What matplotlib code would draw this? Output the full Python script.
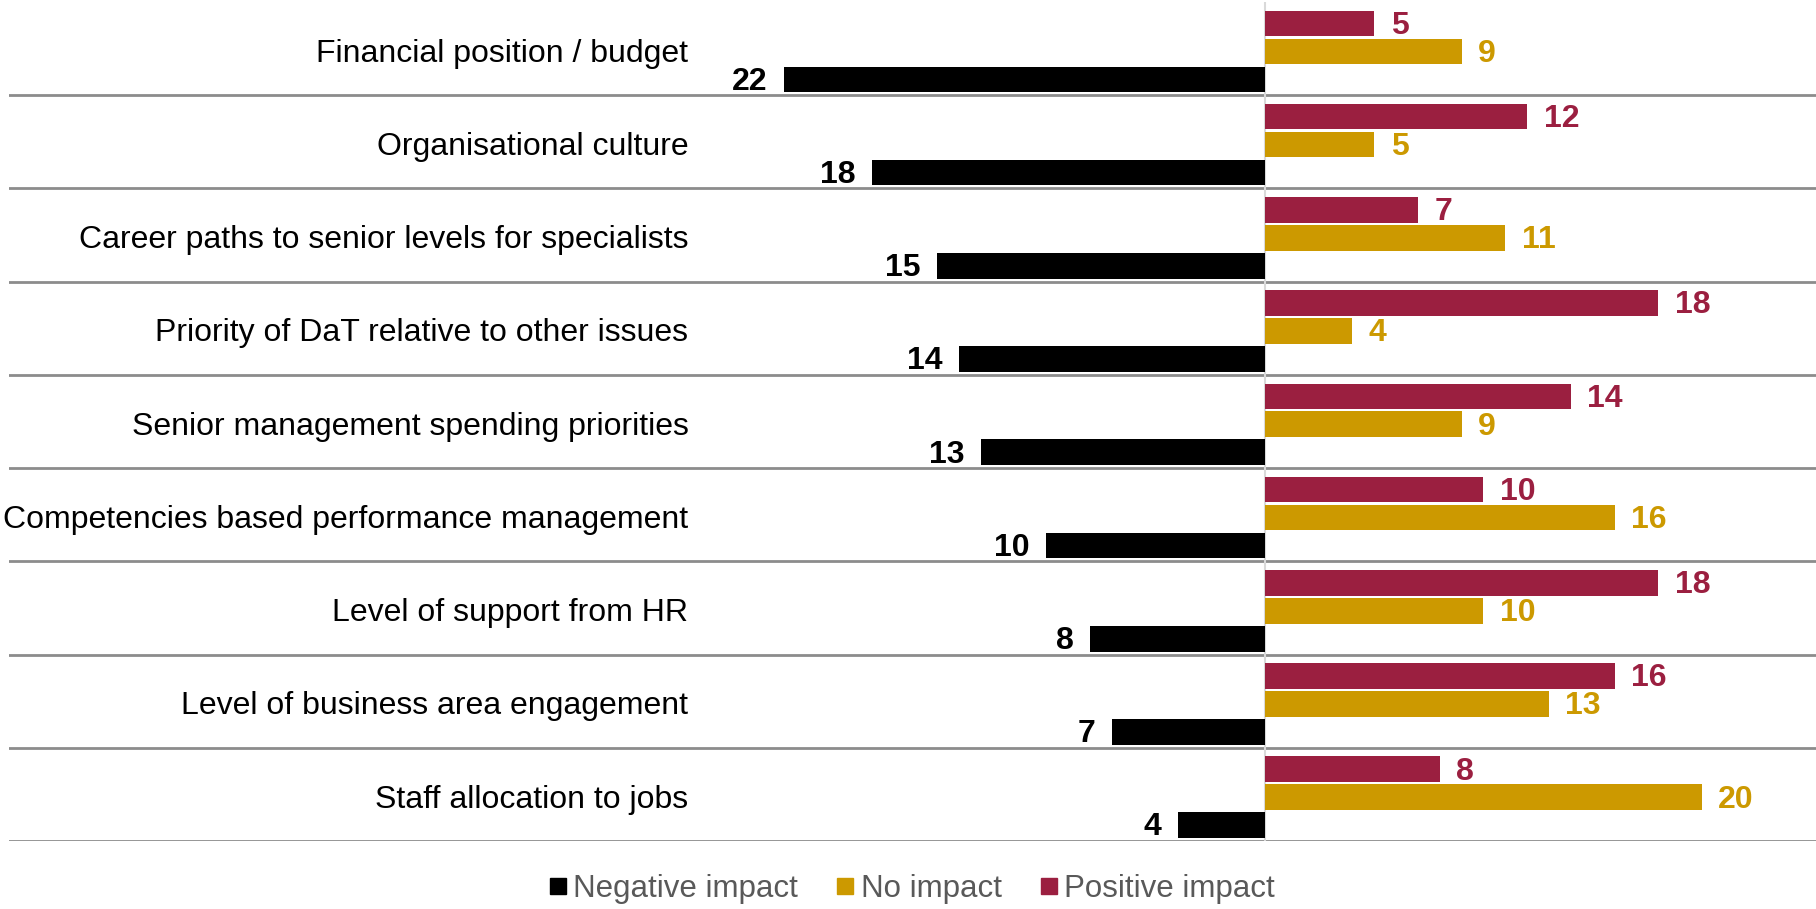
import matplotlib.pyplot as plt
import numpy as np
from matplotlib.lines import Line2D

plt.rcParams['font.family'] = ['Liberation Sans', 'DejaVu Sans']

categories = ["Financial position / budget", "Organisational culture",
              "Career paths to senior levels for specialists",
              "Priority of DaT relative to other issues",
              "Senior management spending priorities",
              "Competencies based performance management",
              "Level of support from HR", "Level of business area engagement",
              "Staff allocation to jobs"]
negative = [22, 18, 15, 14, 13, 10, 8, 7, 4]
no_impact = [9, 5, 11, 4, 9, 16, 10, 13, 20]
positive = [5, 12, 7, 18, 14, 10, 18, 16, 8]

c_neg = "#000000"
c_no = "#CC9900"
c_pos = "#9B1F40"

fig = plt.figure(figsize=(18.16, 9.09), dpi=100)
ax = fig.add_axes([9 / 1816, 68 / 909, 1 - 9 / 1816, 839 / 909])

rows = np.arange(len(categories))
h = 0.275
ax.barh(rows + 0.23, positive, height=h, color=c_pos)
ax.barh(rows + 0.53, no_impact, height=h, color=c_no)
ax.barh(rows + 0.83, [-v for v in negative], height=h, color=c_neg)

fs = 23
dy = 0.025  # nudge text down a touch so it sits on the bar centre
for i in rows:
    ax.text(positive[i] + 0.75, i + 0.23 + dy, str(positive[i]), color=c_pos,
            fontsize=fs, fontweight="bold", va="center", ha="left")
    ax.text(no_impact[i] + 0.75, i + 0.53 + dy, str(no_impact[i]), color=c_no,
            fontsize=fs, fontweight="bold", va="center", ha="left")
    ax.text(-negative[i] - 0.75, i + 0.83 + dy, str(negative[i]), color=c_neg,
            fontsize=fs, fontweight="bold", va="center", ha="right")
    ax.text(0.376, i + 0.53 + dy, categories[i], fontsize=fs, color="black",
            va="center", ha="right", transform=ax.get_yaxis_transform())
    ax.axhline(i + 1, color="#8c8c8c", lw=2, zorder=0)

ax.axvline(0, color="#d9d9d9", lw=1.5, zorder=0)
ax.set_xlim(-57.48, 25.22)
ax.set_ylim(len(categories), 0)
ax.axis("off")

handles = [Line2D([], [], marker="s", ls="none", color=c, markersize=11)
           for c in (c_neg, c_no, c_pos)]
fig.legend(handles, ["Negative impact", "No impact", "Positive impact"],
           loc="center", bbox_to_anchor=(0.502, 0.022), ncol=3, frameon=False,
           fontsize=22.5, handlelength=0.6, handletextpad=0.2, columnspacing=1.2,
           labelcolor="#595959")

fig.savefig("out.png", dpi=100)
